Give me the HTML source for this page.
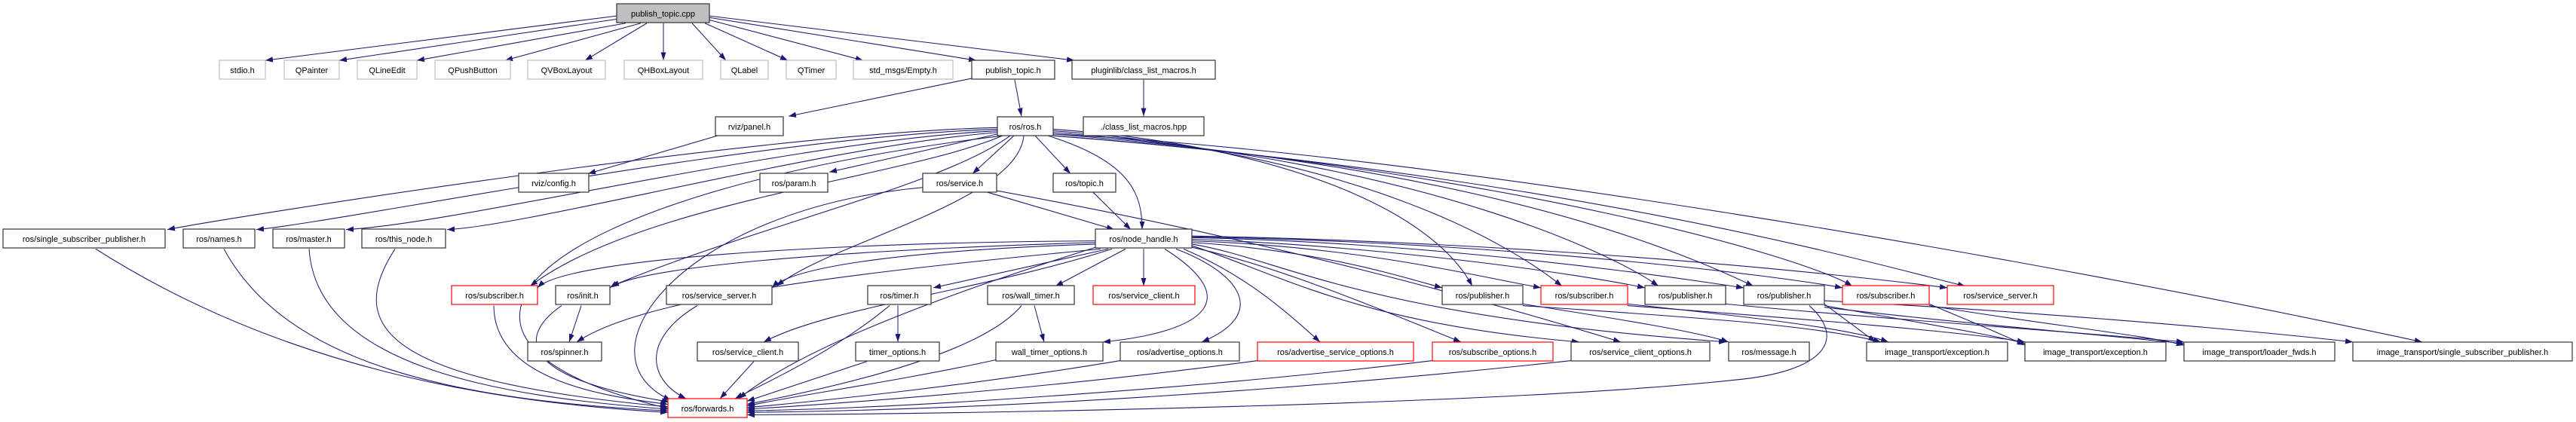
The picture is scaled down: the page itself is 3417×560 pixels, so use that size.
<!DOCTYPE html>
<html><head><meta charset="utf-8"><style>
html,body{margin:0;padding:0;background:#fff;}
svg{display:block;}
text{font-family:"Liberation Sans",Helvetica,Arial,sans-serif;font-size:11px;fill:#000;}
.e{fill:none;stroke:#191970;stroke-width:1;}
.n{fill:#fff;stroke:#333;stroke-width:1.2;}
.g{fill:#fff;stroke:#bfbfbf;stroke-width:1.2;}
.r{fill:#fff;stroke:#ff0000;stroke-width:1.2;}
</style></head><body>
<svg width="3417" height="560" viewBox="0 0 3417 560" xmlns="http://www.w3.org/2000/svg">
<defs><marker id="a" markerUnits="userSpaceOnUse" markerWidth="11" markerHeight="8" refX="10" refY="3.5" orient="auto"><path d="M0,0 L10,3.5 L0,7 z" fill="#191970"/></marker></defs>
<g transform="translate(0,5) scale(1,1.0738) translate(0,-5)">
<g class="e" marker-end="url(#a)">
<path d="M818 20 L352 75"/><path d="M818 24 L450 75"/><path d="M830 29 L553 75"/><path d="M850 29 L670 75"/>
<path d="M858 29 L776 75"/><path d="M880 29 L880 75"/><path d="M918 29 L963 75"/><path d="M935 29 L1045 75"/>
<path d="M941 25 L1145 75"/><path d="M941 22 L1295 75"/><path d="M941 20 L1425 75"/>
<path d="M1290 97 L1046 144"/><path d="M1346 99 L1355 144"/><path d="M1517 99 L1517 144"/><path d="M952 168 L780 215"/>
<path d="M1323 158 C1000 165, 300 270, 222 284"/>
<path d="M1323 160 C1000 170, 450 275, 340 284"/>
<path d="M1323 162 C1050 175, 600 278, 459 284"/>
<path d="M1323 164 C1100 180, 700 280, 593 284"/>
<path d="M1323 166 L1100 213"/>
<path d="M1345 168 L1290 215"/>
<path d="M1373 168 L1420 215"/>
<path d="M1390 168 C1500 200, 1515 240, 1515 284"/>
<path d="M1330 168 C1200 220, 850 250, 703 354"/>
<path d="M1340 168 C1250 230, 1000 280, 811 354"/>
<path d="M1358 168 C1350 250, 1100 300, 1030 354"/>
<path d="M1330 168 C700 240, 500 420, 886 505"/>
<path d="M1397 160 C1700 180, 1900 260, 1953 354"/>
<path d="M1397 162 C1800 190, 2000 300, 2072 354"/>
<path d="M1397 164 C1900 200, 2150 320, 2200 354"/>
<path d="M1397 166 C2000 210, 2250 320, 2326 354"/>
<path d="M1397 168 C2000 210, 2400 320, 2457 354"/>
<path d="M1397 168 C2100 220, 2500 330, 2607 354"/>
<path d="M1397 166 C1900 190, 2700 320, 3213 423"/>
<path d="M1310 238 L1478 284"/>
<path d="M1224 232 C900 260, 760 440, 890 495"/>
<path d="M1322 236 C1700 300, 2000 380, 2150 423"/>
<path d="M1450 238 L1500 284"/>
<path d="M1453 298 C1100 300, 750 320, 713 356"/>
<path d="M1453 300 C1100 310, 850 330, 809 356"/>
<path d="M1453 302 C1200 310, 1050 330, 1024 356"/>
<path d="M1470 308 L1238 356"/>
<path d="M1493 308 L1400 354"/>
<path d="M1517 308 L1517 354"/>
<path d="M1460 308 C1100 340, 850 370, 765 423"/>
<path d="M1475 308 C1300 360, 1100 380, 1013 423"/>
<path d="M1545 308 C1650 370, 1600 410, 1463 423"/>
<path d="M1560 308 C1650 340, 1680 390, 1594 423"/>
<path d="M1570 308 C1650 340, 1700 380, 1751 423"/>
<path d="M1581 306 C1700 330, 1850 390, 1938 423"/>
<path d="M1581 304 C1700 340, 1800 400, 2095 423"/>
<path d="M1581 302 C1700 320, 1800 390, 2290 423"/>
<path d="M1581 300 C1750 310, 1850 340, 1913 356"/>
<path d="M1581 298 C1800 305, 1950 340, 2044 356"/>
<path d="M1581 296 C1850 305, 2100 340, 2182 356"/>
<path d="M1581 294 C1900 300, 2200 340, 2313 356"/>
<path d="M1581 293 C2000 300, 2350 340, 2444 356"/>
<path d="M1581 292 C2050 300, 2450 340, 2583 356"/>
<path d="M1453 306 C1200 380, 1050 440, 980 493"/>
<path d="M771 378 L755 423"/>
<path d="M745 378 C680 420, 700 470, 888 497"/>
<path d="M655 378 C655 470, 800 490, 886 500"/>
<path d="M925 378 C850 420, 860 470, 910 493"/>
<path d="M1191 378 L1191 423"/>
<path d="M1180 378 C1100 440, 1000 480, 975 493"/>
<path d="M1372 378 L1385 423"/>
<path d="M1355 378 C1300 440, 1100 480, 991 500"/>
<path d="M1000 447 L955 493"/>
<path d="M1150 447 L991 496"/>
<path d="M1321 445 C1200 470, 1050 490, 991 502"/>
<path d="M1486 446 C1300 475, 1100 495, 991 504"/>
<path d="M1668 446 C1400 480, 1100 500, 991 506"/>
<path d="M1900 446 C1600 480, 1200 505, 991 508"/>
<path d="M2084 446 C1700 485, 1300 507, 991 510"/>
<path d="M2400 378 C2450 420, 2420 460, 2300 470 C2000 500, 1300 512, 991 513"/>
<path d="M127 308 C400 470, 700 500, 886 510"/>
<path d="M297 308 C380 450, 600 495, 886 508"/>
<path d="M410 308 C420 450, 650 490, 886 506"/>
<path d="M524 308 C460 400, 500 470, 886 503"/>
<path d="M2020 376 C2150 395, 2250 410, 2293 423"/>
<path d="M2020 378 C2200 390, 2400 400, 2495 423"/>
<path d="M2159 376 C2300 390, 2450 405, 2505 423"/>
<path d="M2159 378 C2400 395, 2600 410, 2686 423"/>
<path d="M2289 376 C2500 395, 2750 410, 2897 423"/>
<path d="M2420 376 L2488 423"/>
<path d="M2420 378 C2550 400, 2650 415, 2686 425"/>
<path d="M2420 380 C2600 400, 2800 415, 2897 425"/>
<path d="M2420 372 C2700 385, 3000 410, 3121 423"/>
<path d="M2559 376 C2620 400, 2660 415, 2686 427"/>
<path d="M2559 378 C2700 400, 2850 415, 2897 427"/>
</g>
</g>
<g text-anchor="middle">
<rect x="818" y="5" width="123" height="25" fill="#bfbfbf" stroke="#333" stroke-width="1.2"/><text x="879.5" y="22">publish_topic.cpp</text>
<rect class="g" x="291" y="80" width="61" height="25"/><text x="321.5" y="97">stdio.h</text>
<rect class="g" x="377" y="80" width="73" height="25"/><text x="413.5" y="97">QPainter</text>
<rect class="g" x="474" y="80" width="79" height="25"/><text x="513.5" y="97">QLineEdit</text>
<rect class="g" x="577" y="80" width="100" height="25"/><text x="627" y="97">QPushButton</text>
<rect class="g" x="700" y="80" width="103" height="25"/><text x="751.5" y="97">QVBoxLayout</text>
<rect class="g" x="828" y="80" width="104" height="25"/><text x="880" y="97">QHBoxLayout</text>
<rect class="g" x="956" y="80" width="63" height="25"/><text x="987.5" y="97">QLabel</text>
<rect class="g" x="1043" y="80" width="66" height="25"/><text x="1076" y="97">QTimer</text>
<rect class="g" x="1132" y="80" width="132" height="25"/><text x="1198" y="97">std_msgs/Empty.h</text>
<rect class="n" x="1289" y="80" width="110" height="25"/><text x="1344" y="97">publish_topic.h</text>
<rect class="n" x="1422" y="80" width="190" height="25"/><text x="1517" y="97">pluginlib/class_list_macros.h</text>
<rect class="n" x="949" y="155" width="90" height="25"/><text x="994" y="172">rviz/panel.h</text>
<rect class="n" x="1323" y="155" width="74" height="25"/><text x="1360" y="172">ros/ros.h</text>
<rect class="n" x="1437" y="155" width="160" height="25"/><text x="1517" y="172">./class_list_macros.hpp</text>
<rect class="n" x="688" y="230" width="93" height="25"/><text x="734.5" y="247">rviz/config.h</text>
<rect class="n" x="1008" y="230" width="90" height="25"/><text x="1053" y="247">ros/param.h</text>
<rect class="n" x="1224" y="230" width="98" height="25"/><text x="1273" y="247">ros/service.h</text>
<rect class="n" x="1397" y="230" width="83" height="25"/><text x="1438.5" y="247">ros/topic.h</text>
<rect class="n" x="4" y="304" width="215" height="25"/><text x="111.5" y="321">ros/single_subscriber_publisher.h</text>
<rect class="n" x="243" y="304" width="95" height="25"/><text x="290.5" y="321">ros/names.h</text>
<rect class="n" x="362" y="304" width="95" height="25"/><text x="409.5" y="321">ros/master.h</text>
<rect class="n" x="480" y="304" width="111" height="25"/><text x="535.5" y="321">ros/this_node.h</text>
<rect class="n" x="1453" y="304" width="128" height="25"/><text x="1517" y="321">ros/node_handle.h</text>
<rect class="r" x="599" y="379" width="114" height="25"/><text x="656" y="396">ros/subscriber.h</text>
<rect class="n" x="737" y="379" width="72" height="25"/><text x="773" y="396">ros/init.h</text>
<rect class="n" x="884" y="379" width="140" height="25"/><text x="954" y="396">ros/service_server.h</text>
<rect class="n" x="1151" y="379" width="84" height="25"/><text x="1193" y="396">ros/timer.h</text>
<rect class="n" x="1310" y="379" width="115" height="25"/><text x="1367.5" y="396">ros/wall_timer.h</text>
<rect class="r" x="1450" y="379" width="135" height="25"/><text x="1517.5" y="396">ros/service_client.h</text>
<rect class="n" x="1913" y="379" width="107" height="25"/><text x="1966.5" y="396">ros/publisher.h</text>
<rect class="r" x="2044" y="379" width="115" height="25"/><text x="2101.5" y="396">ros/subscriber.h</text>
<rect class="n" x="2182" y="379" width="107" height="25"/><text x="2235.5" y="396">ros/publisher.h</text>
<rect class="n" x="2313" y="379" width="107" height="25"/><text x="2366.5" y="396">ros/publisher.h</text>
<rect class="r" x="2444" y="379" width="115" height="25"/><text x="2501.5" y="396">ros/subscriber.h</text>
<rect class="r" x="2583" y="379" width="141" height="25"/><text x="2653.5" y="396">ros/service_server.h</text>
<rect class="n" x="700" y="454" width="98" height="25"/><text x="749" y="471">ros/spinner.h</text>
<rect class="n" x="925" y="454" width="134" height="25"/><text x="992" y="471">ros/service_client.h</text>
<rect class="n" x="1135" y="454" width="111" height="25"/><text x="1190.5" y="471">timer_options.h</text>
<rect class="n" x="1321" y="454" width="142" height="25"/><text x="1392" y="471">wall_timer_options.h</text>
<rect class="n" x="1486" y="454" width="158" height="25"/><text x="1565" y="471">ros/advertise_options.h</text>
<rect class="r" x="1668" y="454" width="207" height="25"/><text x="1771.5" y="471">ros/advertise_service_options.h</text>
<rect class="r" x="1900" y="454" width="160" height="25"/><text x="1980" y="471">ros/subscribe_options.h</text>
<rect class="n" x="2084" y="454" width="184" height="25"/><text x="2176" y="471">ros/service_client_options.h</text>
<rect class="n" x="2293" y="454" width="107" height="25"/><text x="2346.5" y="471">ros/message.h</text>
<rect class="n" x="2476" y="454" width="187" height="25"/><text x="2569.5" y="471">image_transport/exception.h</text>
<rect class="n" x="2686" y="454" width="187" height="25"/><text x="2779.5" y="471">image_transport/exception.h</text>
<rect class="n" x="2897" y="454" width="200" height="25"/><text x="2997" y="471">image_transport/loader_fwds.h</text>
<rect class="n" x="3121" y="454" width="291" height="25"/><text x="3266.5" y="471">image_transport/single_subscriber_publisher.h</text>
<rect class="r" x="886" y="529" width="105" height="25"/><text x="938.5" y="546">ros/forwards.h</text>
</g>
</svg>
</body></html>
